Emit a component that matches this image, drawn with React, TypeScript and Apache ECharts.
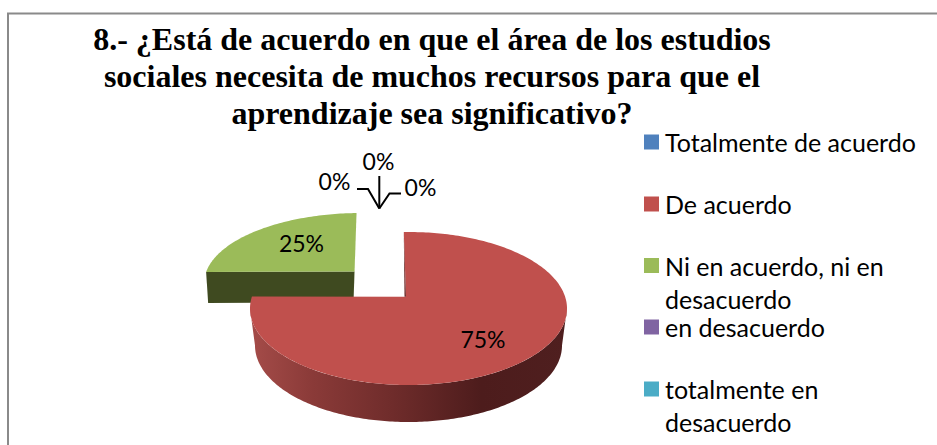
import React, { useEffect, useRef } from "react";
import * as echarts from "echarts";

const titleLines = [
  "8.- ¿Está de acuerdo en que el área de los estudios",
  "sociales necesita de muchos recursos para que el",
  "aprendizaje sea significativo?",
];
const categories = [
  "Totalmente de acuerdo",
  "De acuerdo",
  "Ni en acuerdo, ni en desacuerdo",
  "en desacuerdo",
  "totalmente en desacuerdo",
];
const values = [0, 75, 25, 0, 0];
const colors = ["#4f81bd", "#c0504d", "#9bbb59", "#8064a2", "#4bacc6"];
const legendLines: Record<number, string[]> = {
  0: ["Totalmente de acuerdo"],
  1: ["De acuerdo"],
  2: ["Ni en acuerdo, ni en", "desacuerdo"],
  3: ["en desacuerdo"],
  4: ["totalmente en", "desacuerdo"],
};
const legendCentres = [142, 204, 265.5, 327, 389];

const SANS = "Lato";
const LABEL_SIZE = 23;
const LEGEND_SIZE = 25;
const LEGEND_LH = 33;
const total = values.reduce((a, b) => a + b, 0);

const rad = (d: number) => (d * Math.PI) / 180;
// Perspective of the tilted pie: 12 o'clock leans left and 9 o'clock rises above the centre line.
const warp = (d: number) => d - 9 * Math.sin(rad(d)) - 1.7 * Math.cos(rad(d));

type Shape = {
  cx: number; cy: number; rx: number; ry: number;
  apex: [number, number];
  depth: number; inset: number;
  label: [number, number];
};
const shapes: Record<number, Shape> = {
  1: { cx: 408.5, cy: 308.5, rx: 158.5, ry: 76.5, apex: [406, 296.7], depth: 37, inset: 5, label: [483, 339] },
  2: { cx: 361.2, cy: 283, rx: 157, ry: 70, apex: [354.5, 271.5], depth: 31, inset: 2, label: [301.5, 243] },
};
const zeroLabels: Record<number, { at: [number, number]; line: [number, number][] }> = {
  0: { at: [420.5, 187], line: [[401, 193.5], [389.5, 193.5], [379.3, 208.5]] },
  3: { at: [334.5, 181], line: [[357, 189], [368, 189], [379.3, 208.5]] },
  4: { at: [378.5, 161], line: [[379.3, 176], [379.3, 208.5]] },
};

function pt(s: { cx: number; cy: number; rx: number; ry: number }, d: number): [number, number] {
  return [s.cx + s.rx * Math.sin(rad(d)), s.cy - s.ry * Math.cos(rad(d))];
}
function arc(s: Shape, from: number, to: number) {
  const n = Math.max(2, Math.ceil(Math.abs(to - from)));
  const out: [number, number][] = [];
  for (let i = 0; i <= n; i++) out.push(pt(s, from + ((to - from) * i) / n));
  return out;
}

function sliceRender(index: number) {
  return () => {
    const percent = Math.round((values[index] / total) * 100) + "%";
    const textStyle = { fontFamily: SANS, fontSize: LABEL_SIZE, fill: "#000", align: "center", verticalAlign: "middle" };
    if (values[index] === 0) {
      const z = zeroLabels[index];
      return {
        type: "group",
        children: [
          { type: "polyline", shape: { points: z.line }, style: { stroke: "#000", lineWidth: 2, fill: "none" } },
          { type: "text", style: { ...textStyle, text: percent, x: z.at[0], y: z.at[1] } },
        ],
      };
    }
    const start = (values.slice(0, index).reduce((a, b) => a + b, 0) / total) * 360;
    const end = start + (values[index] / total) * 360;
    const s = shapes[index];
    const a = warp(start);
    const b = warp(end);
    const children: any[] = [];
    // Outer wall (only the arc that faces the viewer)
    const wa = Math.max(a, 90);
    const wb = Math.min(b, 270);
    if (wb > wa) {
      const lower = { cx: s.cx, cy: s.cy + s.depth, rx: s.rx - s.inset, ry: s.ry };
      const pts = [...arc(s, wa, wb), ...arc(lower as Shape, wb, wa)];
      children.push({
        type: "polygon",
        shape: { points: pts },
        style: {
          fill: new echarts.graphic.LinearGradient(1, 0, 0, 0, [
            { offset: 0, color: "#4f1f1f" },
            { offset: 0.27, color: "#4d1c1c" },
            { offset: 0.55, color: "#6f2c2b" },
            { offset: 0.8, color: "#8a3a38" },
            { offset: 1, color: "#a54c49" },
          ]),
        },
      });
    } else {
      // Front cut face of the exploded slice
      const p = pt(s, a);
      children.push({
        type: "polygon",
        shape: {
          points: [p, s.apex, [s.apex[0] - 1, s.apex[1] + s.depth], [p[0] + s.inset, p[1] + s.depth]],
        },
        style: { fill: "#3f4a20" },
      });
      // Sliver of the other cut face, to the right of the front face
      const e = pt(s, b);
      children.push({
        type: "polygon",
        shape: { points: [e, [s.apex[0] - 1, s.apex[1] + 25], s.apex] },
        style: { fill: "#8aa84e" },
      });
    }
    children.push({
      type: "polygon",
      shape: { points: [s.apex, ...arc(s, a, b)] },
      style: { fill: colors[index] },
    });
    if (wb > wa) {
      // Thin visible part of the cut face at 12 o'clock
      children.push({
        type: "polygon",
        shape: { points: [pt(s, a), s.apex, [s.apex[0] - 1.5, s.apex[1]]] },
        style: { fill: "#6d2b2a" },
      });
    }
    children.push({ type: "text", style: { ...textStyle, text: percent, x: s.label[0], y: s.label[1] } });
    return { type: "group", children };
  };
}

export default function App() {
  const ref = useRef<HTMLDivElement>(null);
  useEffect(() => {
    const chart = echarts.init(ref.current!, undefined, { renderer: "svg" });
    const legendNames = Object.fromEntries(categories.map((c, i) => [c, legendLines[i]]));
    chart.setOption({
      animation: false,
      backgroundColor: "#fff",
      title: {
        text: titleLines.join("\n"),
        left: 432,
        top: 20.5,
        padding: 0,
        textAlign: "center",
        textStyle: { fontFamily: "Liberation Serif", fontWeight: "bold", fontSize: 32, lineHeight: 37, color: "#000" },
      },
      legend: categories.map((name, i) => {
        const lines = legendNames[name];
        const n = lines.length === 1 ? 1 : 3;
        return {
          data: [{ name, itemStyle: { color: colors[i], borderWidth: 0 } }],
          left: 644,
          top: legendCentres[i] - (n * LEGEND_LH) / 2 - 1,
          padding: 0,
          selectedMode: false,
          icon: "rect",
          itemWidth: 15,
          itemHeight: 15,
          formatter: (nm: string) => {
            const l = legendNames[nm];
            return l.length === 1 ? l[0] : "\n" + l.join("\n");
          },
          textStyle: { fontFamily: SANS, fontSize: LEGEND_SIZE, lineHeight: LEGEND_LH, color: "#000", padding: [0, 0, 2, 1] },
        };
      }),
      graphic: [
        {
          type: "polyline",
          z: -1,
          shape: { points: [[8, 445], [8, 13.5], [937, 13.5]] },
          style: { stroke: "#8a8a8a", lineWidth: 2, fill: "none" },
        },
      ],
      series: categories.map((name, i) => ({
        type: "custom",
        name,
        coordinateSystem: "none",
        silent: true,
        z: i === 2 ? 2 : i === 1 ? 3 : 4,
        itemStyle: { color: colors[i] },
        data: [values[i]],
        renderItem: sliceRender(i),
      })),
    });
    return () => chart.dispose();
  }, []);
  return <div ref={ref} style={{ position: "fixed", left: 0, top: 0, width: 937, height: 445 }} />;
}
